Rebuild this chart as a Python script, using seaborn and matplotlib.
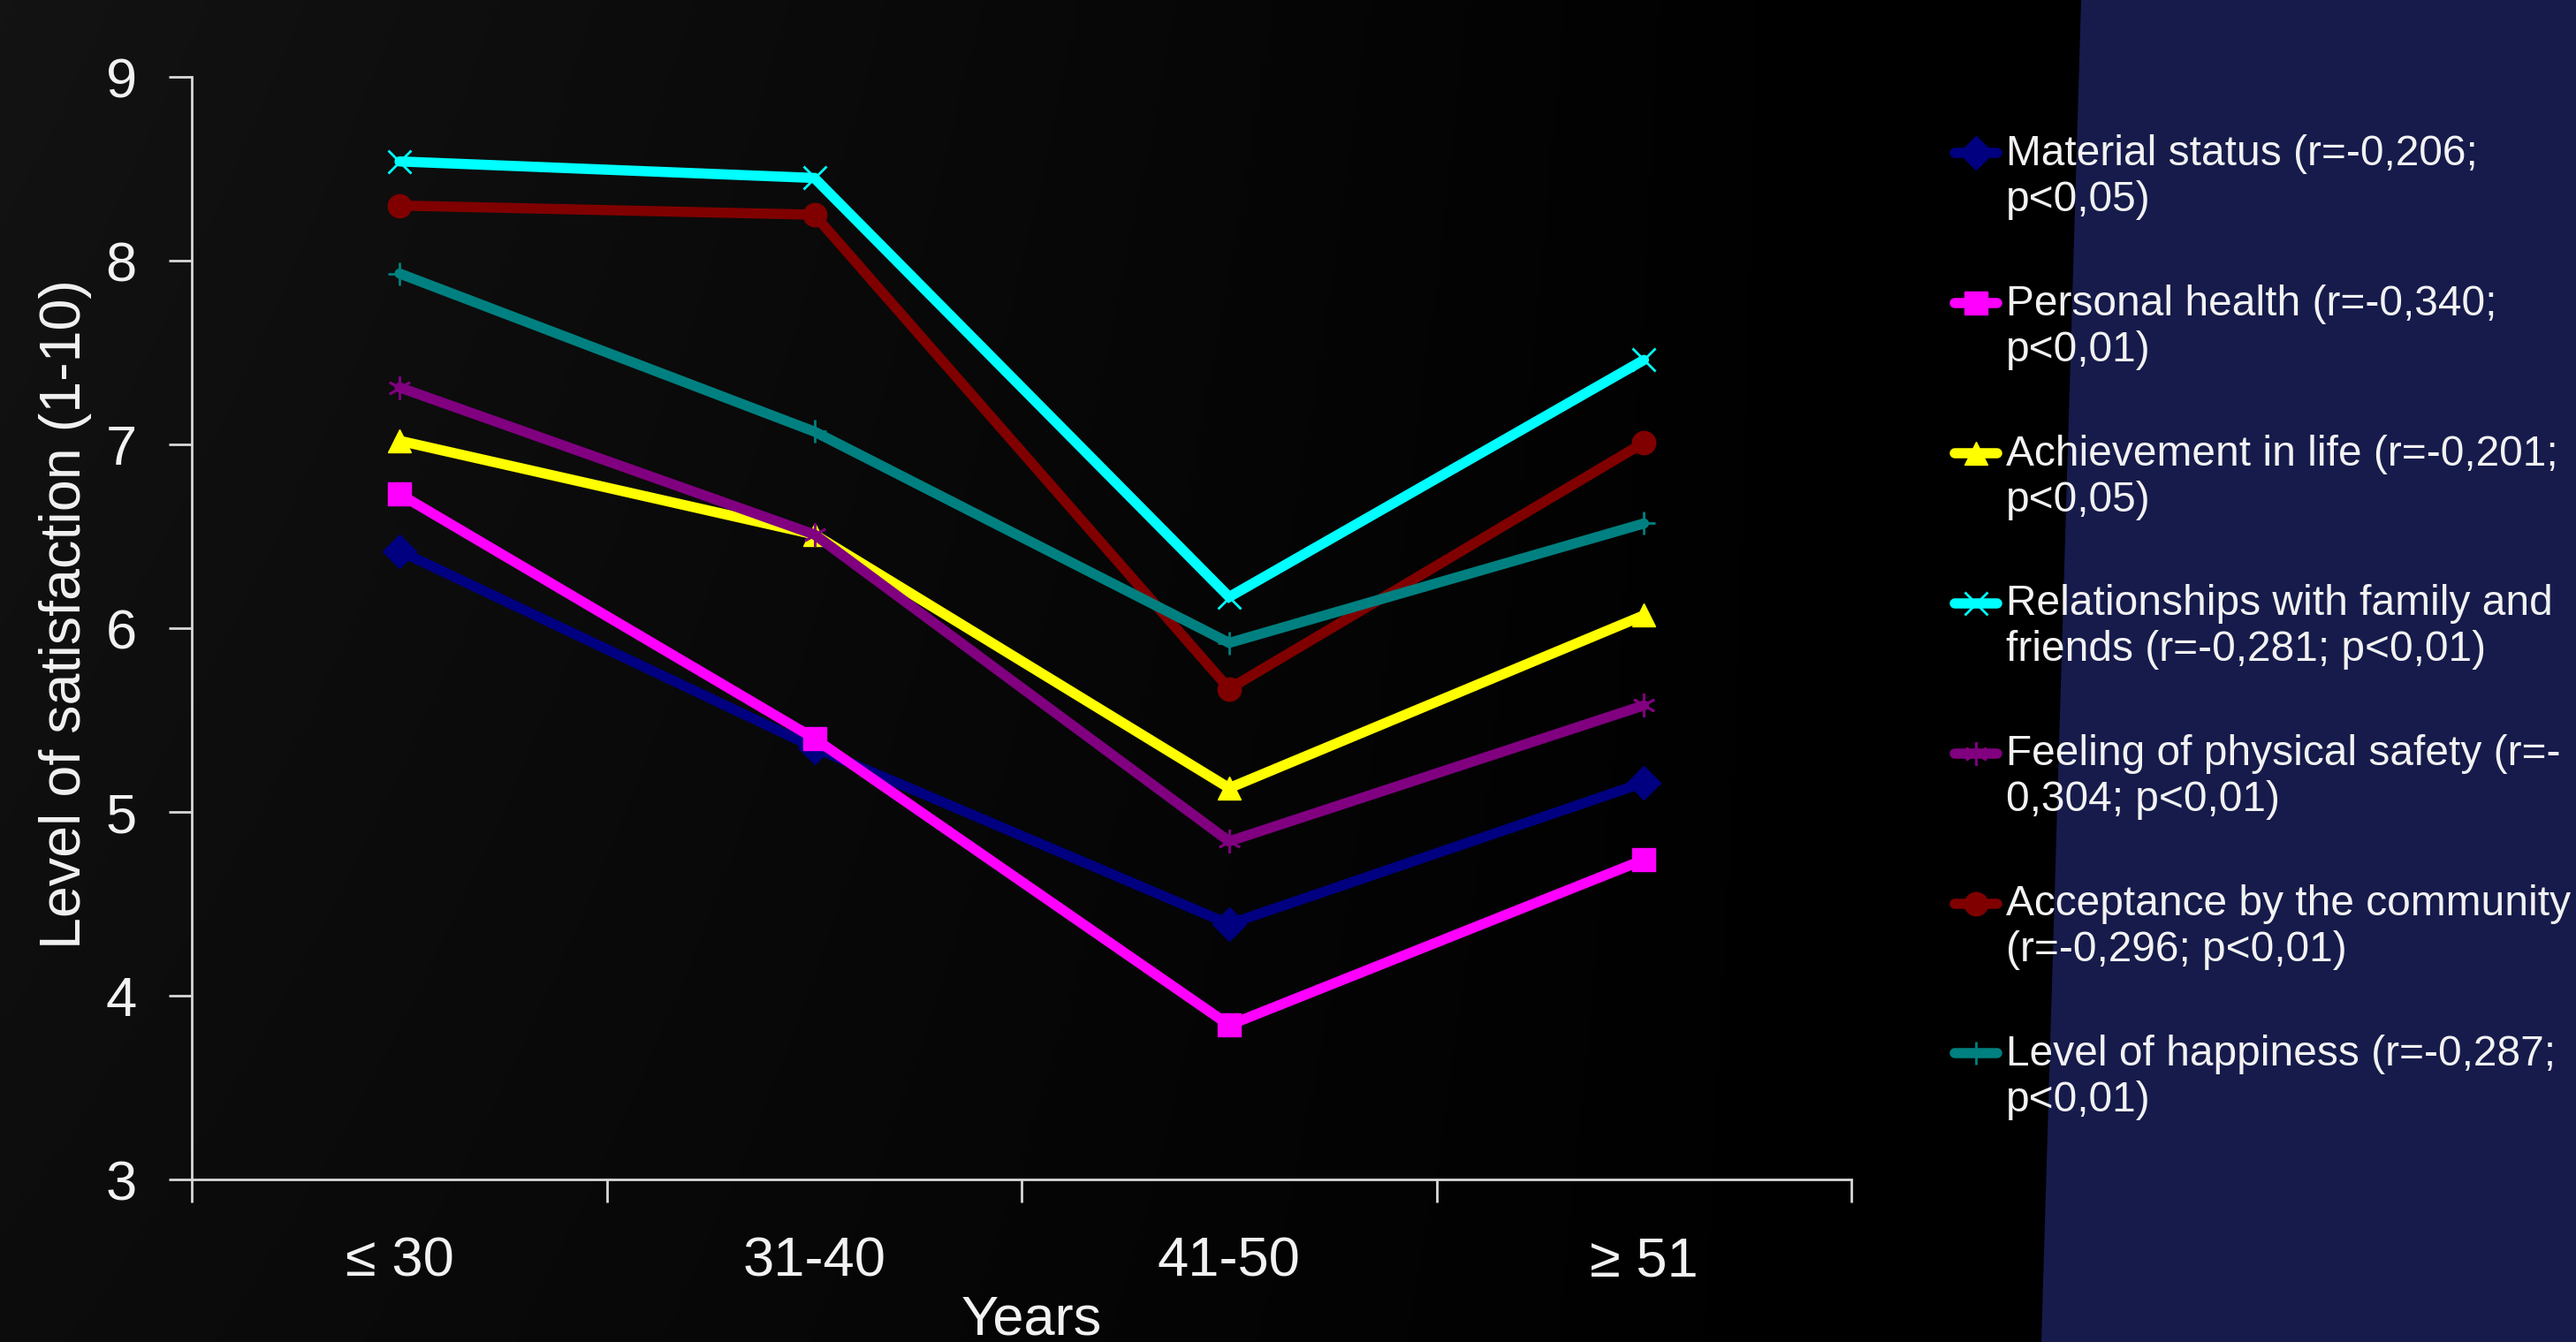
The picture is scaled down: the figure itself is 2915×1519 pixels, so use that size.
import numpy as np
import pandas as pd
import matplotlib
matplotlib.use("Agg")
import matplotlib.pyplot as plt
import seaborn as sns
from matplotlib.patches import Polygon
from matplotlib.legend_handler import HandlerLine2D

# ---- data -------------------------------------------------------------
age_groups = ["≤ 30", "31-40", "41-50", "≥ 51"]

material_status = [6.42, 5.35, 4.39, 5.16]
personal_health = [6.73, 5.40, 3.84, 4.74]
achievement_in_life = [7.02, 6.51, 5.13, 6.07]
relationships = [8.54, 8.45, 6.17, 7.46]
physical_safety = [7.31, 6.51, 4.84, 5.58]
acceptance = [8.30, 8.25, 5.67, 7.01]
happiness = [7.93, 7.07, 5.92, 6.57]

series_names = [
    "Material status", "Personal health", "Achievement in life",
    "Relationships with family and friends", "Feeling of physical safety",
    "Acceptance by the community", "Level of happiness",
]
series_values = [material_status, personal_health, achievement_in_life,
                 relationships, physical_safety, acceptance, happiness]
legend_labels = [
    "Material status (r=-0,206;\np<0,05)",
    "Personal health (r=-0,340;\np<0,01)",
    "Achievement in life (r=-0,201;\np<0,05)",
    "Relationships with family and\nfriends (r=-0,281; p<0,01)",
    "Feeling of physical safety (r=-\n0,304; p<0,01)",
    "Acceptance by the community\n(r=-0,296; p<0,01)",
    "Level of happiness (r=-0,287;\np<0,01)",
]
series_colors = ["#000080", "#FF00FF", "#FFFF00", "#00FFFF",
                 "#800080", "#800000", "#008080"]
series_markers = ["D", "s", "^", "x", (6, 2, 0), "o", "+"]

df = pd.DataFrame({
    "Years": age_groups * len(series_names),
    "Satisfaction": np.concatenate(series_values),
    "Aspect": np.repeat(series_names, len(age_groups)),
})

# ---- styling ----------------------------------------------------------
sns.set_style("dark")
plt.rcParams["font.family"] = ["Liberation Sans", "DejaVu Sans"]
text_color = "#f2f2f2"
axis_color = "#d9d9d9"

fig = plt.figure(figsize=(29.15, 15.19), dpi=100)
fig.patch.set_facecolor("black")

# slide background: dark grey fading to black, navy panel on the right
bg = fig.add_axes([0, 0, 1, 1], zorder=-10)
h, w = 300, 600
xx, yy = np.meshgrid(np.linspace(0, 1, w), np.linspace(0, 1, h))
shade = 0.075 * np.clip(1.0 - xx / 0.72, 0, 1) * (1.0 - 0.35 * yy)
rgb = np.dstack([shade, shade, shade])
bg.imshow(rgb, extent=[0, 1, 0, 1], aspect="auto", origin="upper")
bg.add_patch(Polygon([[2355 / 2915, 1], [2310 / 2915, 0], [1, 0], [1, 1]],
                     closed=True, facecolor="#161b4b", edgecolor="none"))
bg.set_xlim(0, 1)
bg.set_ylim(0, 1)
bg.axis("off")

ax = fig.add_axes([0.0746, 0.1211, 0.6441, 0.8216], zorder=1)
ax.set_facecolor("none")

sns.lineplot(
    data=df, x="Years", y="Satisfaction", hue="Aspect",
    hue_order=series_names, palette=dict(zip(series_names, series_colors)),
    linewidth=8.3, legend=False, ax=ax, sort=False,
)

# each series gets its own marker shape
series_lines = ax.lines[:len(series_names)]
for line, col, mk in zip(series_lines, series_colors, series_markers):
    line.set_marker(mk)
    line.set_markersize(19)
    line.set_markeredgecolor(col)
    line.set_markerfacecolor(col)
    line.set_markeredgewidth(2.0 if mk in ("x", "+", (6, 2, 0)) else 1.0)
    line.set_solid_joinstyle("miter")

# axes
ax.set_ylim(3, 9)
ax.set_yticks(range(3, 10))
ax.set_xlim(-0.5, len(age_groups) - 0.5)
ax.set_xticks(np.arange(-0.5, len(age_groups), 1.0))
ax.set_xticks(range(len(age_groups)), labels=age_groups, minor=True)
ax.tick_params(axis="x", which="major", labelbottom=False, length=19,
               width=2, color=axis_color, direction="out", bottom=True)
ax.tick_params(axis="x", which="minor", length=0, pad=46,
               labelsize=45.5, labelcolor=text_color, bottom=True)
ax.tick_params(axis="y", which="major", length=19, width=2, color=axis_color,
               direction="out", pad=26, labelsize=45.5, labelcolor=text_color,
               left=True)
ax.grid(False)
for side in ("top", "right"):
    ax.spines[side].set_visible(False)
for side in ("left", "bottom"):
    ax.spines[side].set_visible(True)
    ax.spines[side].set_color(axis_color)
    ax.spines[side].set_linewidth(2)

ax.set_ylabel("Level of satisfaction (1-10)", fontsize=46.5, color=text_color,
              va="center")
ax.yaxis.set_label_coords(-0.0764, 0.513)
ax.set_xlabel("Years", fontsize=45.5, color=text_color, va="center")
ax.xaxis.set_label_coords(0.506, -0.127)


class FirstLineHandler(HandlerLine2D):
    """Line handle lifted so it sits beside the first line of a wrapped label."""

    def __init__(self, lift, **kw):
        super().__init__(**kw)
        self.lift = lift

    def create_artists(self, legend, orig_handle, xdescent, ydescent, width,
                       height, fontsize, trans):
        artists = super().create_artists(legend, orig_handle, xdescent,
                                         ydescent, width, height, fontsize,
                                         trans)
        for a in artists:
            a.set_ydata(np.asarray(a.get_ydata()) + self.lift)
        return artists


leg_fs = 34.5
handler = FirstLineHandler(lift=20)
leg = fig.legend(
    series_lines, legend_labels, loc="upper left",
    bbox_to_anchor=(2212 / 2915, 1 - 152 / 1519), frameon=False,
    fontsize=leg_fs, handlelength=1.0, handletextpad=0.2, borderpad=0,
    borderaxespad=0, labelspacing=1.52, labelcolor=text_color,
    handler_map={line: handler for line in series_lines},
)
for t in leg.get_texts():
    t.set_linespacing(1.2)

fig.savefig("out.png", dpi=100, facecolor=fig.get_facecolor())
